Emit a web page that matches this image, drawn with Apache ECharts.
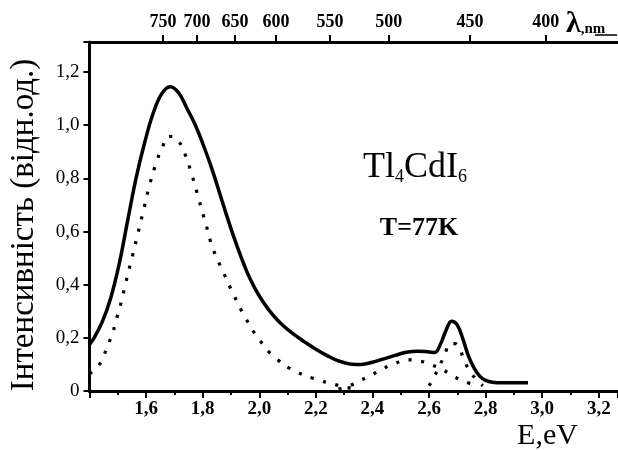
<!DOCTYPE html>
<html><head><meta charset="utf-8">
<script src="https://cdn.jsdelivr.net/npm/echarts@6/dist/echarts.min.js"></script>
<style>html,body{margin:0;padding:0;background:#fff}#c{width:618px;height:450px}</style>
</head><body><div id="c"></div>
<script>
// Photoluminescence of Tl4CdI6, T = 77 K
// Solid: measured spectrum
const solidE = [1.40, 1.415, 1.445, 1.475, 1.505, 1.535, 1.565, 1.595, 1.625, 1.655, 1.685, 1.715, 1.745, 1.775, 1.805, 1.835, 1.865, 1.895, 1.925, 1.955, 1.985, 2.015, 2.045, 2.08, 2.12, 2.16, 2.20, 2.24, 2.28, 2.32, 2.36, 2.40, 2.44, 2.48, 2.52, 2.56, 2.60, 2.62, 2.64, 2.66, 2.68, 2.70, 2.72, 2.74, 2.76, 2.78, 2.80, 2.83, 2.86, 2.95];
const solidV = [0.175, 0.198, 0.260, 0.350, 0.478, 0.642, 0.803, 0.935, 1.045, 1.118, 1.145, 1.122, 1.062, 0.998, 0.918, 0.828, 0.727, 0.627, 0.535, 0.452, 0.385, 0.333, 0.290, 0.250, 0.215, 0.185, 0.157, 0.133, 0.113, 0.102, 0.100, 0.108, 0.121, 0.134, 0.146, 0.150, 0.147, 0.145, 0.175, 0.228, 0.262, 0.248, 0.195, 0.130, 0.085, 0.055, 0.040, 0.032, 0.031, 0.031];
// Dotted: decomposition bands
const band1E = [1.40, 1.431, 1.451, 1.469, 1.484, 1.496, 1.508, 1.529, 1.551, 1.572, 1.593, 1.614, 1.640, 1.657, 1.678, 1.695, 1.714, 1.735, 1.763, 1.787, 1.812, 1.837, 1.873, 1.911, 1.952, 1.999, 2.059, 2.134, 2.217, 2.262, 2.30, 2.33];
const band1V = [0.065, 0.094, 0.135, 0.182, 0.226, 0.274, 0.317, 0.411, 0.505, 0.596, 0.690, 0.781, 0.872, 0.915, 0.957, 0.958, 0.942, 0.898, 0.809, 0.719, 0.625, 0.534, 0.447, 0.359, 0.274, 0.195, 0.123, 0.071, 0.039, 0.026, 0.015, 0.01];
const band2E = [2.28, 2.32, 2.356, 2.397, 2.436, 2.477, 2.521, 2.565, 2.609, 2.645, 2.686, 2.727, 2.77];
const band2V = [0.008, 0.02, 0.039, 0.060, 0.083, 0.102, 0.117, 0.113, 0.098, 0.082, 0.056, 0.035, 0.02];
const band3E = [2.60, 2.615, 2.635, 2.654, 2.674, 2.69, 2.706, 2.723, 2.742, 2.768, 2.79];
const band3V = [0.02, 0.047, 0.09, 0.132, 0.177, 0.178, 0.163, 0.120, 0.079, 0.043, 0.02];
// Top wavelength axis: labels and their positions on the energy scale
const topLabels = ['750', '700', '650', '600', '550', '500', '450', '400'];
const topTickE = [1.660, 1.780, 1.914, 2.059, 2.250, 2.458, 2.745, 3.013];

const X_MIN = 1.4, X_MAX = 3.268, Y_MIN = 0, Y_MAX = 1.313;
const SERIF = '"Liberation Serif", "Times New Roman", serif';

function pairs(xs, ys) { return xs.map((x, i) => [x, ys[i]]); }
function isStep(v, step) { const k = v / step; return Math.abs(k - Math.round(k)) < 1e-6; }
function comma(v) { return Math.abs(v) < 1e-9 ? '0' : v.toFixed(1).replace('.', ','); }

const chart = echarts.init(document.getElementById('c'), null, {renderer: 'canvas'});
const dotLine = {color: '#000', width: 3.2, type: [3.2, 9.5], cap: 'butt'};

chart.setOption({
  animation: false,
  backgroundColor: '#fff',
  grid: {left: 89.5, right: 0, top: 42, bottom: 59, containLabel: false, outerBoundsMode: 'none'},
  xAxis: [
    {
      type: 'value', position: 'bottom', min: X_MIN, max: X_MAX, interval: 0.2,
      axisLine: {show: true, onZero: false, lineStyle: {color: '#000', width: 3}},
      axisTick: {show: true, inside: false, length: 7, lineStyle: {color: '#000', width: 2}},
      axisLabel: {
        formatter: v => (isStep(v, 0.2) && v > 1.5 && v < 3.25) ? comma(v) : '',
        fontFamily: SERIF, fontWeight: 'bold', fontSize: 19, color: '#000', margin: 9
      },
      splitLine: {show: false}
    },
    {
      type: 'value', position: 'bottom', min: X_MIN, max: X_MAX, interval: 0.1,
      axisLine: {show: false, onZero: false},
      axisTick: {show: true, inside: false, length: 4, lineStyle: {color: '#000', width: 2}},
      axisLabel: {show: false},
      splitLine: {show: false}
    },
    {
      type: 'value', position: 'top', min: X_MIN, max: X_MAX,
      axisLine: {show: true, onZero: false, lineStyle: {color: '#000', width: 3}},
      axisTick: {show: true, inside: false, length: 7, customValues: topTickE, lineStyle: {color: '#000', width: 2}},
      axisLabel: {
        customValues: topTickE,
        formatter: v => {
          let best = 0;
          topTickE.forEach((e, i) => { if (Math.abs(e - v) < Math.abs(topTickE[best] - v)) best = i; });
          return topLabels[best];
        },
        fontFamily: SERIF, fontWeight: 'bold', fontSize: 18, color: '#000', margin: 11
      },
      splitLine: {show: false}
    }
  ],
  yAxis: {
    type: 'value', min: Y_MIN, max: Y_MAX, interval: 0.2,
    axisLine: {show: true, onZero: false, lineStyle: {color: '#000', width: 3}},
    axisTick: {show: true, inside: false, length: 6, lineStyle: {color: '#000', width: 2}},
    axisLabel: {
      formatter: v => isStep(v, 0.2) ? comma(v) : '',
      fontFamily: SERIF, fontSize: 19, color: '#000', margin: 10
    },
    splitLine: {show: false}
  },
  series: [
    {type: 'line', xAxisIndex: 0, data: pairs(band1E, band1V), smooth: true, symbol: 'none', lineStyle: dotLine, z: 2},
    {type: 'line', xAxisIndex: 0, data: pairs(band2E, band2V), smooth: true, symbol: 'none', lineStyle: dotLine, z: 2},
    {type: 'line', xAxisIndex: 0, data: pairs(band3E, band3V), smooth: true, symbol: 'none', lineStyle: dotLine, z: 2},
    {type: 'line', xAxisIndex: 0, data: pairs(solidE, solidV), smooth: 0.4, symbol: 'none',
     lineStyle: {color: '#000', width: 3.5, type: 'solid', join: 'round'}, z: 3}
  ],
  graphic: [
    {type: 'text', x: 24, y: 225, rotation: Math.PI / 2,
     style: {text: 'Інтенсивність (відн.од.)', fontFamily: SERIF, fontSize: 33, fill: '#000', align: 'center', verticalAlign: 'middle'}},
    {type: 'text', x: 547.5, y: 436,
     style: {text: 'E,eV', fontFamily: SERIF, fontSize: 30, fill: '#000', align: 'center', verticalAlign: 'middle'}},
    {type: 'text', x: 363, y: 168,
     style: {text: '{m|Tl}{s|4}{m|CdI}{s|6}', fill: '#000', align: 'left', verticalAlign: 'middle',
       rich: {m: {fontFamily: SERIF, fontSize: 36, lineHeight: 40, fill: '#000'},
              s: {fontFamily: SERIF, fontSize: 18, verticalAlign: 'bottom', lineHeight: 18, padding: [0, 0, 2, 0], fill: '#000'}}}},
    {type: 'text', x: 419, y: 228,
     style: {text: 'T=77K', fontFamily: SERIF, fontWeight: 'bold', fontSize: 26, fill: '#000', align: 'center', verticalAlign: 'middle'}},
    {type: 'text', x: 566, y: 24.5,
     style: {text: '{l|λ}{n|,nm}', fill: '#000', align: 'left', verticalAlign: 'middle',
       rich: {l: {fontFamily: SERIF, fontWeight: 'bold', fontSize: 30, lineHeight: 30, fill: '#000'},
              n: {fontFamily: SERIF, fontWeight: 'bold', fontSize: 15, verticalAlign: 'bottom', lineHeight: 15, padding: [0, 0, 3, 0], fill: '#000'}}}},
    {type: 'line', shape: {x1: 595, y1: 35, x2: 617, y2: 35}, style: {stroke: '#000', lineWidth: 1.5}}
  ]
});
</script>
</body></html>
